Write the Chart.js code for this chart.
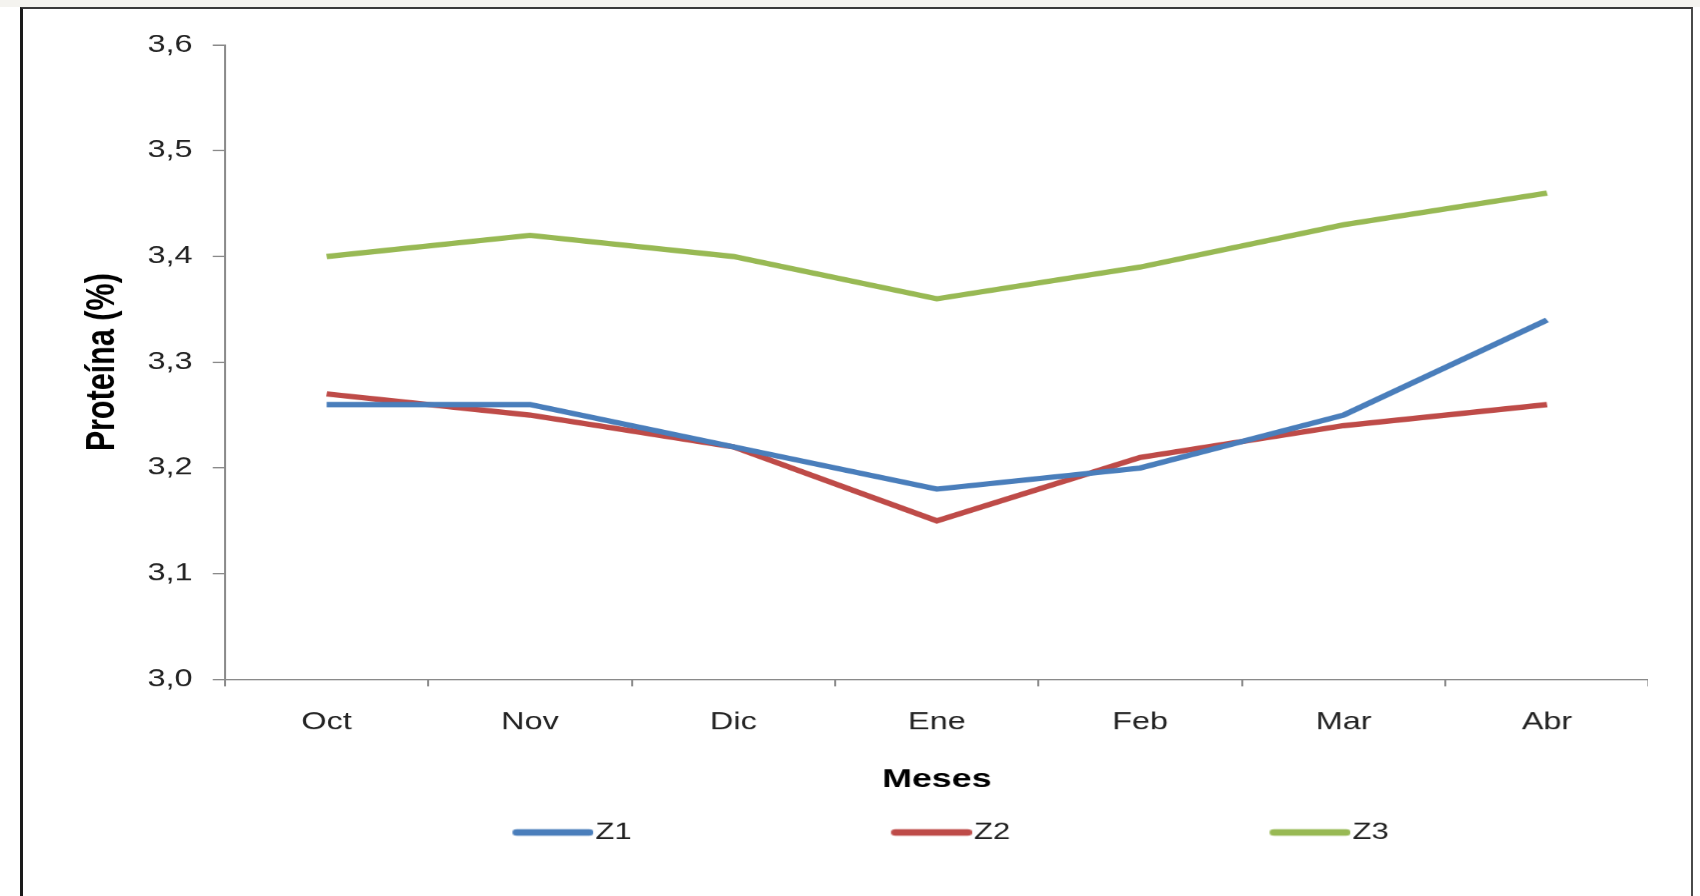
<!DOCTYPE html>
<html>
<head>
<meta charset="utf-8">
<script src="https://cdn.jsdelivr.net/npm/chart.js@4/dist/chart.umd.min.js"></script>
<style>
  html, body { margin: 0; padding: 0; background: #ffffff; width: 1700px; height: 896px; overflow: hidden; }
  #strip { position: absolute; left: 0; top: 0; width: 1700px; height: 7px; background: #f4f3ef; }
  #frame { position: absolute; left: 20px; top: 7px; width: 1668px; height: 1000px;
           border-left: 3px solid #1a1a1a; border-top: 2px solid #3a3a3a; border-right: 2px solid #4a4a4a; }
  #wrap { position: absolute; left: 0; top: 0; transform-origin: 0 0; transform: scaleX(1.35); }
  canvas { display: block; }
</style>
</head>
<body>
<div id="strip"></div>
<div id="frame"></div>
<div id="wrap"><canvas id="c" width="1221" height="896"></canvas></div>
<script>
// ---- data ----
const categories = ['Oct', 'Nov', 'Dic', 'Ene', 'Feb', 'Mar', 'Abr'];
const seriesNames = ['Z1', 'Z2', 'Z3'];
const z1Values = [3.26, 3.26, 3.22, 3.18, 3.20, 3.25, 3.34];
const z2Values = [3.27, 3.25, 3.22, 3.15, 3.21, 3.24, 3.26];
const z3Values = [3.40, 3.42, 3.40, 3.36, 3.39, 3.43, 3.46];
const yTickLabels = ['3,0', '3,1', '3,2', '3,3', '3,4', '3,5', '3,6'];
const yMin = 3.0, yMax = 3.6, yStep = 0.1;
const yTitle = 'Proteína (%)';
const xTitle = 'Meses';

// ---- styling ----
const colors = ['#4A7EBB', '#BE4B48', '#98B954'];
const FONT = '"Liberation Sans", Arial, Helvetica, sans-serif';
const LEG_BOX = 222;
const LEG_OVER = 10;

function legendSwatch(color) {
  const W = LEG_BOX + 2 * LEG_OVER, H = 10;
  const c = document.createElement('canvas');
  c.width = W; c.height = H;
  const g = c.getContext('2d');
  g.strokeStyle = color; g.lineWidth = 6.5; g.lineCap = 'round';
  g.beginPath(); g.moveTo(W - 60 + 3.25, H / 2); g.lineTo(W - 3.25, H / 2); g.stroke();
  return c;
}

const seriesValues = [z1Values, z2Values, z3Values];
const datasets = seriesNames.map((name, i) => ({
  label: name,
  data: seriesValues[i],
  borderColor: colors[i],
  backgroundColor: colors[i],
  borderWidth: 5.3,
  tension: 0,
  pointRadius: 0,
  pointHoverRadius: 0,
  pointStyle: legendSwatch(colors[i]),
  fill: false
}));

new Chart(document.getElementById('c'), {
  type: 'line',
  data: { labels: categories, datasets },
  options: {
    responsive: false,
    animation: false,
    devicePixelRatio: 1.35,
    layout: { padding: { left: 15, right: 0, top: 45, bottom: 42.5 } },
    plugins: {
      legend: {
        position: 'bottom',
        labels: {
          usePointStyle: true,
          pointStyleWidth: LEG_BOX,
          boxHeight: 10,
          padding: 20,
          color: '#222',
          font: { family: FONT, size: 23 }
        }
      },
      tooltip: { enabled: false }
    },
    scales: {
      x: {
        offset: true,
        grid: { offset: true, drawOnChartArea: false, tickLength: 7, color: '#8a8a8a', lineWidth: 1.5 },
        border: { color: '#8a8a8a', width: 1.5 },
        ticks: { color: '#222', font: { family: FONT, size: 24 }, padding: 22, maxRotation: 0 },
        title: { display: true, text: xTitle, color: '#000',
                 font: { family: FONT, size: 26.5, weight: 'bold' },
                 padding: { top: 4.8, bottom: 5 } }
      },
      y: {
        min: yMin, max: yMax,
        grid: { drawOnChartArea: false, tickLength: 9, color: '#8a8a8a', lineWidth: 1.5 },
        border: { color: '#8a8a8a', width: 1.5 },
        ticks: {
          stepSize: yStep, color: '#222', padding: 15,
          font: { family: FONT, size: 24 },
          callback: (v) => yTickLabels[Math.round((v - yMin) / yStep)]
        },
        title: { display: true, text: yTitle, color: '#000',
                 font: { family: FONT, size: 30.5, weight: 'bold' },
                 padding: { top: 42.6, bottom: 0 } }
      }
    }
  }
});
</script>
</body>
</html>
